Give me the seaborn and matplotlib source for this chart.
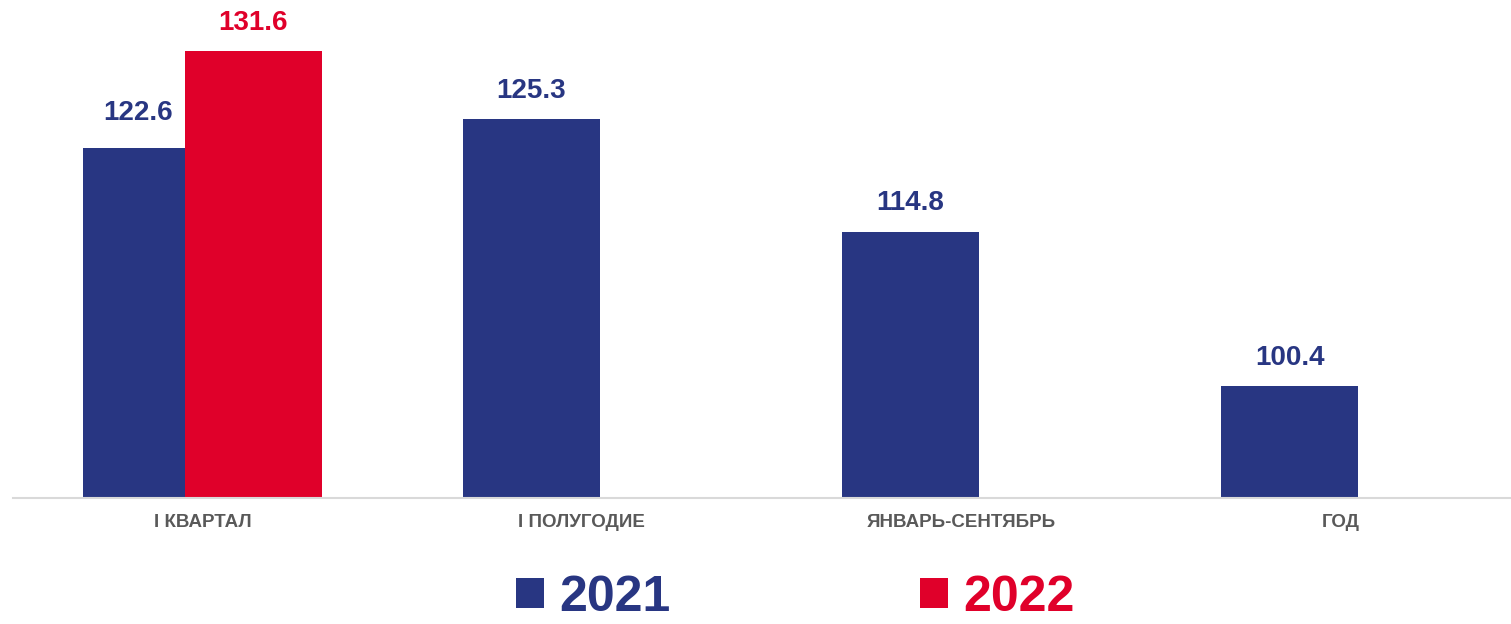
import numpy as np
import pandas as pd
import matplotlib
matplotlib.use("Agg")
import matplotlib.pyplot as plt
import seaborn as sns

# data
categories = ["I КВАРТАЛ", "I ПОЛУГОДИЕ", "ЯНВАРЬ-СЕНТЯБРЬ", "ГОД"]
values_2021 = [122.6, 125.3, 114.8, 100.4]
values_2022 = [131.6, np.nan, np.nan, np.nan]
years = ["2021", "2022"]

BLUE = "#283682"
RED = "#E0002A"
GREY = "#595959"

sns.set_theme(style="white")
plt.rcParams["font.family"] = ["Liberation Sans", "DejaVu Sans"]

idx = np.arange(len(categories))
df21 = pd.DataFrame({"pos": idx - 0.134, "val": values_2021})
df22 = pd.DataFrame({"pos": idx + 0.134, "val": values_2022}).dropna()

fig = plt.figure(figsize=(15.11, 6.24), dpi=100)
ax = fig.add_axes([0.0086, 0.2024, 1.004, 0.7976])

sns.barplot(data=df21, x="pos", y="val", native_scale=True, width=0.361,
            color=BLUE, saturation=1, errorbar=None, ax=ax, label=years[0],
            linewidth=0)
sns.barplot(data=df22, x="pos", y="val", native_scale=True, width=0.361,
            color=RED, saturation=1, errorbar=None, ax=ax, label=years[1],
            linewidth=0)
if ax.get_legend() is not None:
    ax.get_legend().remove()

ax.set_xlim(-0.5, len(categories) - 0.5)
ax.set_ylim(90, 136.4)
ax.set_xticks(idx)
ax.set_xticklabels(categories, fontsize=13.5, fontweight="bold", color=GREY)
ax.tick_params(axis="x", length=0, pad=12)
ax.set_yticks([])
ax.set_xlabel("")
ax.set_ylabel("")

for side in ["top", "right", "left"]:
    ax.spines[side].set_visible(False)
ax.spines["bottom"].set_color("#D9D9D9")
ax.spines["bottom"].set_linewidth(1.5)

# value labels
lab21 = ax.bar_label(ax.containers[0], fmt="{:.1f}", padding=11,
                     fontsize=20, fontweight="bold", color=BLUE)
lab22 = ax.bar_label(ax.containers[1], fmt="{:.1f}", padding=11,
                     fontsize=20, fontweight="bold", color=RED)
# first blue label sits a bit left and higher next to the red bar
lab21[0].xyann = (-10, 16)

# legend at the bottom
handles = [ax.containers[0].patches[0], ax.containers[1].patches[0]]
leg = fig.legend(handles, years, loc="center", bbox_to_anchor=(0.5265, 0.042),
                 ncol=2, frameon=False, prop={"size": 36, "weight": "bold"},
                 handlelength=0.56, handleheight=0.56, handletextpad=0.3,
                 columnspacing=5.0)
for txt, c in zip(leg.get_texts(), [BLUE, RED]):
    txt.set_color(c)

fig.savefig("out.png", dpi=100)
